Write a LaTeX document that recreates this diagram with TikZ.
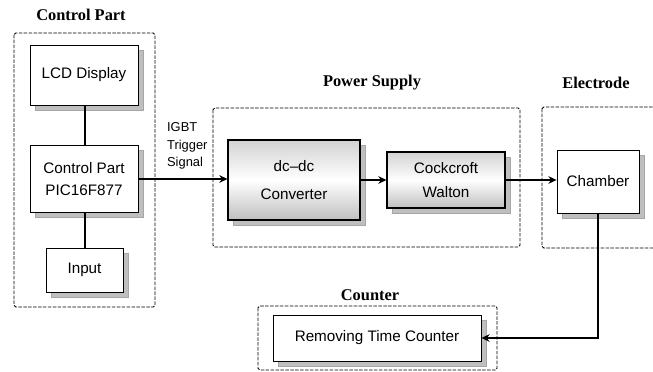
\documentclass[tikz,border=0pt]{standalone}
\usepackage{fontspec}
\setmainfont{Liberation Sans}
\newfontfamily\headfont{Liberation Serif}
\usetikzlibrary{arrows.meta, positioning}

\begin{document}
\begin{tikzpicture}[x=0.03cm, y=-0.03cm, >={Stealth[length=7pt, width=6.5pt]},
    boxshadow/.style={preaction={fill=gray!50, draw=gray!70, line width=0.4pt,
        transform canvas={shift={(4.2pt,-4.2pt)}}}},
    blk/.style={boxshadow, draw, line width=0.7pt, fill=white, inner sep=2pt, align=center,
        font=\fontsize{13}{19}\selectfont},
    shadedblk/.style={blk, line width=0.9pt, top color=gray!35, bottom color=gray!50, middle color=white},
    group/.style={draw=black, dash pattern=on 3pt off 1.2pt, line width=0.7pt, rounded corners=1.5pt},
    grouptitle/.style={font=\headfont\bfseries\fontsize{14}{16}\selectfont},
    wire/.style={line width=2pt}]
    % page size
    \clip (0,0) rectangle (653,372);

    % dashed groups and their titles
    \draw[group] (14,33) rectangle (155,307);
    \draw[group] (213,108) rectangle (520,247);
    \draw[group] (542,107) rectangle (690,248);
    \draw[group] (258,306) rectangle (497,370);
    \node[grouptitle] (ctltitle) at (81,15) {Control Part};
    \node[grouptitle] (pwrtitle) at (372,83) {Power Supply};
    \node[grouptitle] (eletitle) at (596,83) {Electrode};
    \node[grouptitle] (cnttitle) at (370,295) {Counter};

    % blocks
    \node[blk, minimum width=3.24cm, minimum height=1.8cm] (lcd) at (84,75) {LCD Display};
    \node[blk, minimum width=3.24cm, minimum height=2.01cm] (ctrl) at (84,179) {Control Part\\PIC16F877};
    \node[blk, minimum width=2.31cm, minimum height=1.32cm] (inp) at (84.5,270) {Input};
    \node[shadedblk, minimum width=3.96cm, minimum height=2.4cm, font=\fontsize{13}{24}\selectfont] (dcdc) at (294,180) {dc--dc\\Converter};
    \node[shadedblk, minimum width=3.54cm, minimum height=1.68cm, font=\fontsize{13}{21}\selectfont] (cw) at (446,180) {Cockcroft\\Walton};
    \node[blk, minimum width=2.46cm, minimum height=1.89cm] (chamber) at (598,181.5) {Chamber};
    \node[blk, minimum width=6.24cm, minimum height=1.38cm] (rtc) at (377,338) {Removing Time Counter};

    \node[font=\fontsize{11}{15}\selectfont, align=left, anchor=west] (igbt) at (163,146) {IGBT\\Trigger\\Signal};

    % connectors
    \draw[wire] (lcd.south -| 85,0) -- (ctrl.north -| 85,0);
    \draw[wire] (ctrl.south -| 85,0) -- (inp.north -| 85,0);
    \draw[wire, ->] (ctrl.east) -- (ctrl.east -| dcdc.west);
    \draw[wire, ->] (dcdc.east) -- (dcdc.east -| cw.west);
    \draw[wire, ->] (cw.east) -- (cw.east -| chamber.west);
    \draw[wire, ->] (chamber.south) |- (rtc.east);
\end{tikzpicture}
\end{document}
